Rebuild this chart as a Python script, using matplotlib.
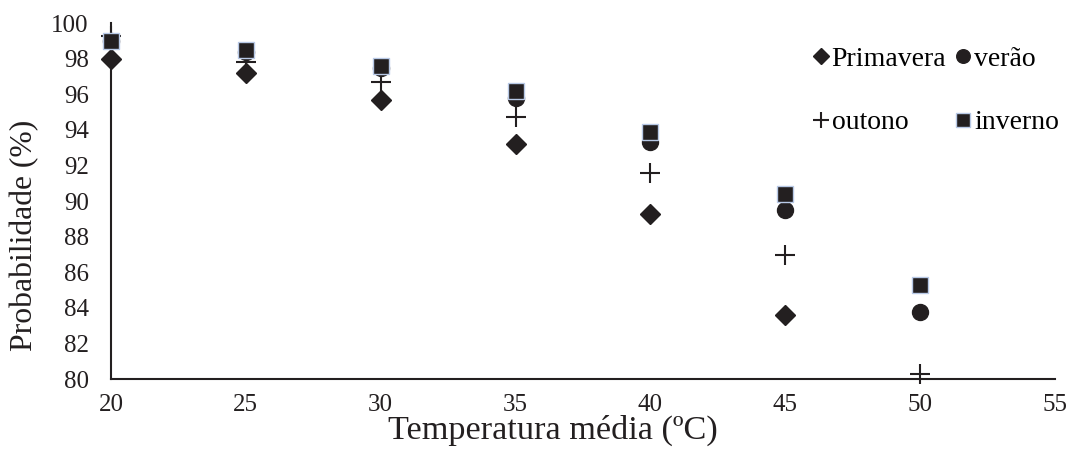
import numpy as np
import matplotlib
matplotlib.use("Agg")
import matplotlib.pyplot as plt

# mean temperature (x) and probability (%) per season
temps = [20, 25, 30, 35, 40, 45, 50]
primavera = [98.0, 97.2, 95.7, 93.2, 89.3, 83.6, np.nan]
verao = [99.0, 98.4, 97.5, 95.8, 93.3, 89.5, 83.8]
outono = [99.3, 97.8, 96.7, 94.7, 91.6, 87.0, 80.3]
inverno = [99.0, 98.5, 97.6, 96.2, 93.9, 90.4, 85.3]

x_ticks = [20, 25, 30, 35, 40, 45, 50, 55]
y_ticks = [80, 82, 84, 86, 88, 90, 92, 94, 96, 98, 100]

INK = "#231f20"
plt.rcParams["font.family"] = ["Liberation Serif", "DejaVu Serif"]

fig = plt.figure(figsize=(10.71, 4.53), dpi=100)
ax = fig.add_axes([0.1036, 0.163, 0.8814, 0.786])

ax.plot(temps, primavera, ls="none", marker="D", ms=9.8, color=INK,
        label="Primavera", clip_on=False, zorder=3)
ax.plot(temps, verao, ls="none", marker="o", ms=11.5, color=INK,
        label="verão", clip_on=False, zorder=4)
ax.plot(temps, outono, ls="none", marker="+", ms=14, mew=1.5, color=INK,
        label="outono", clip_on=False, zorder=5)
ax.plot(temps, inverno, ls="none", marker="s", ms=12, color=INK,
        mec="#b8c9e6", mew=1.0, label="inverno", clip_on=False, zorder=6)

ax.set_xlim(20, 55)
ax.set_ylim(80, 100)
ax.set_xticks(x_ticks)
ax.set_yticks(y_ticks)
ax.tick_params(axis="both", length=0, labelsize=18, colors=INK)
ax.tick_params(axis="y", pad=16)
ax.tick_params(axis="x", pad=11)

for side in ("top", "right"):
    ax.spines[side].set_visible(False)
for side in ("left", "bottom"):
    ax.spines[side].set_color(INK)
    ax.spines[side].set_linewidth(1.5)

ax.set_xlabel("Temperatura média (ºC)", fontsize=24.7, color=INK)
ax.xaxis.set_label_coords(0.468, -0.10)
ax.set_ylabel("Probabilidade (%)", fontsize=22.8, color=INK)
ax.yaxis.set_label_coords(-0.076, 0.404)

# legend: rows "Primavera verão" / "outono inverno"
h, l = ax.get_legend_handles_labels()
order = [0, 2, 1, 3]
ax.legend([h[i] for i in order], [l[i] for i in order], ncol=2,
          loc="upper left", bbox_to_anchor=(0.748, 0.928),
          bbox_transform=fig.transFigure, frameon=False, fontsize=20,
          handlelength=0.4, handletextpad=0.2, columnspacing=0.4,
          labelspacing=1.37, borderpad=0, markerscale=0.85)

fig.savefig("out.png", dpi=100)
